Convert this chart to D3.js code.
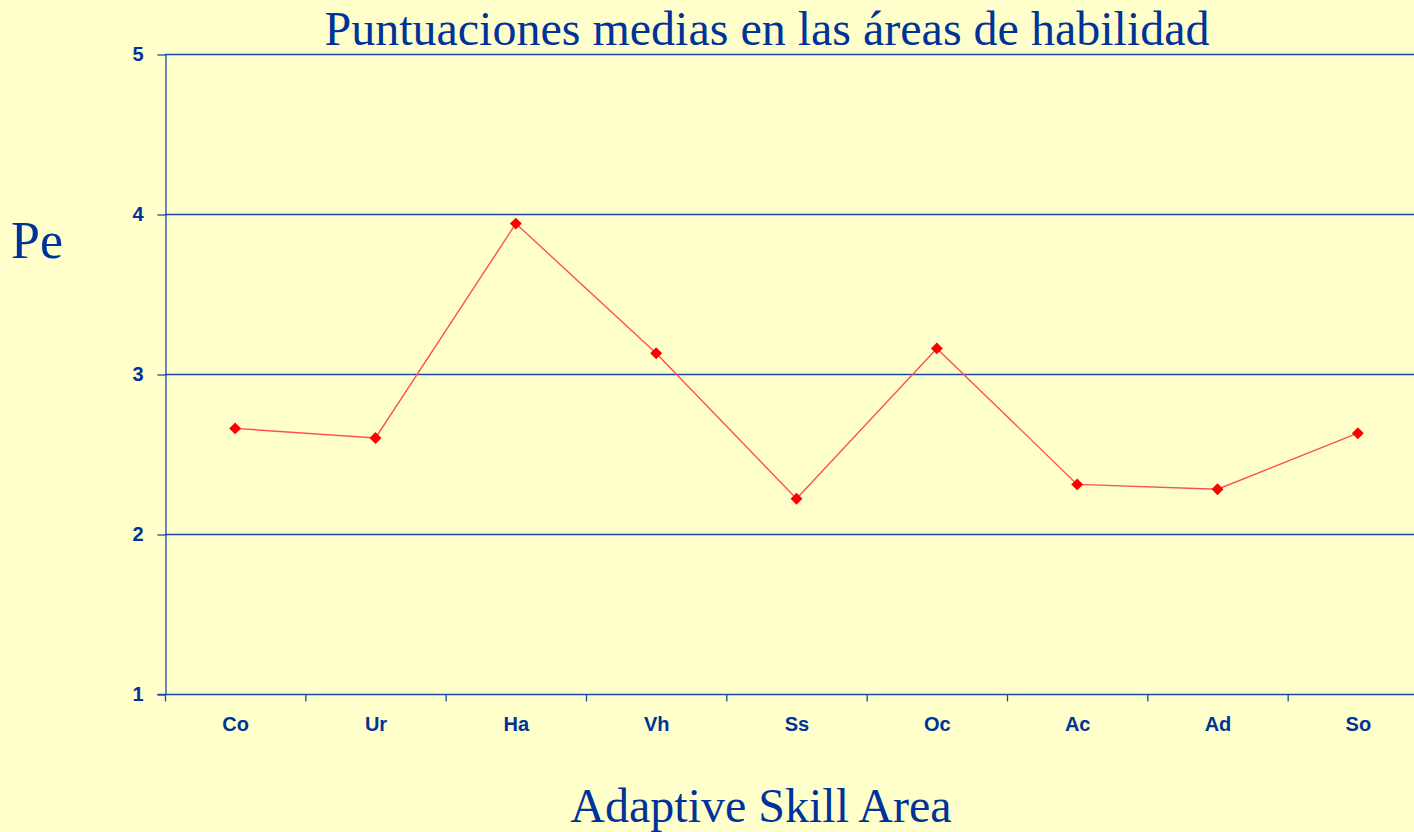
<!DOCTYPE html>
<html>
<head>
<meta charset="utf-8">
<script src="https://cdn.jsdelivr.net/npm/d3@7"></script>
<style>
  body { margin: 0; background: #ffffcc; overflow: hidden; }
  svg { display: block; }
</style>
</head>
<body>
<div id="chart"></div>
<script>
// data
var categories = ['Co', 'Ur', 'Ha', 'Vh', 'Ss', 'Oc', 'Ac', 'Ad', 'So'];
var values = [2.66, 2.60, 3.94, 3.13, 2.22, 3.16, 2.31, 2.28, 2.63];
var y_ticks = [1, 2, 3, 4, 5];

var width = 1414;
var height = 832;
var blue = '#003399';
var grid_blue = '#1a48a6';

// plot area, hardwired to the slide layout
var plot_left = 165;
var plot_right = 1428;
var plot_top = 54;
var plot_bottom = 694;

var svg = d3.select('#chart')
  .append('svg')
  .attr('width', width)
  .attr('height', height);

svg.append('rect')
  .attr('width', width)
  .attr('height', height)
  .style('fill', '#ffffcc');

var x = d3.scaleBand()
  .domain(categories)
  .range([plot_left, plot_right])
  .padding(0);

var y = d3.scaleLinear()
  .domain([1, 5])
  .range([plot_bottom, plot_top]);

// horizontal grid lines
svg.append('g')
  .selectAll('line')
  .data(y_ticks.slice(1))
  .enter()
  .append('line')
  .attr('x1', plot_left)
  .attr('x2', width)
  .attr('y1', function(d){ return y(d) + 0.5; })
  .attr('y2', function(d){ return y(d) + 0.5; })
  .style('stroke', grid_blue)
  .style('stroke-width', 1.3);

// y axis
var y_axis = svg.append('g')
  .attr('transform', 'translate(' + (plot_left + 0.5) + ',0.5)')
  .call(d3.axisLeft(y).tickValues(y_ticks).tickFormat(d3.format('d')).tickSize(8).tickSizeOuter(0).tickPadding(14));

// x axis, ticks between categories
var x_axis = svg.append('g')
  .attr('transform', 'translate(0.5,' + (plot_bottom + 0.5) + ')')
  .call(d3.axisBottom(x).tickSize(0).tickPadding(22));

x_axis.selectAll('.tick')
  .append('line')
  .attr('class', 'sep')
  .attr('x1', -x.bandwidth() / 2)
  .attr('x2', -x.bandwidth() / 2)
  .attr('y1', 0)
  .attr('y2', 7);

x_axis.select('.domain').attr('d', 'M' + (plot_left - 8) + ',0H' + width);

[y_axis, x_axis].forEach(function(ax){
  ax.select('.domain').style('stroke', grid_blue).style('stroke-width', 1.3);
  ax.selectAll('.tick line').style('stroke', grid_blue).style('stroke-width', 1.3);
  ax.selectAll('.tick text')
    .style('fill', blue)
    .style('font-family', 'Liberation Sans, Arial, sans-serif')
    .style('font-weight', 'bold')
    .style('font-size', '20px');
});

// series line
var line = d3.line()
  .x(function(d, i){ return x(categories[i]) + x.bandwidth() / 2; })
  .y(function(d){ return y(d); });

svg.append('path')
  .datum(values)
  .attr('d', line)
  .style('fill', 'none')
  .style('stroke', '#ff5050')
  .style('stroke-width', 1.4);

// diamond markers
svg.append('g')
  .selectAll('path')
  .data(values)
  .enter()
  .append('path')
  .attr('d', d3.symbol().type(d3.symbolDiamond2).size(90))
  .attr('transform', function(d, i){
    return 'translate(' + (x(categories[i]) + x.bandwidth() / 2) + ',' + y(d) + ')';
  })
  .style('fill', '#ff0000');

// titles
svg.append('text')
  .attr('x', 767)
  .attr('y', 45)
  .attr('text-anchor', 'middle')
  .style('font-family', 'Liberation Serif, Times New Roman, serif')
  .style('font-size', '48px')
  .style('fill', blue)
  .text('Puntuaciones medias en las áreas de habilidad');

svg.append('text')
  .attr('x', 11)
  .attr('y', 258)
  .style('font-family', 'Liberation Serif, Times New Roman, serif')
  .style('font-size', '52px')
  .style('fill', blue)
  .text('Pe');

svg.append('text')
  .attr('x', 761)
  .attr('y', 822)
  .attr('text-anchor', 'middle')
  .style('font-family', 'Liberation Serif, Times New Roman, serif')
  .style('font-size', '48px')
  .style('fill', blue)
  .text('Adaptive Skill Area');
</script>
</body>
</html>
